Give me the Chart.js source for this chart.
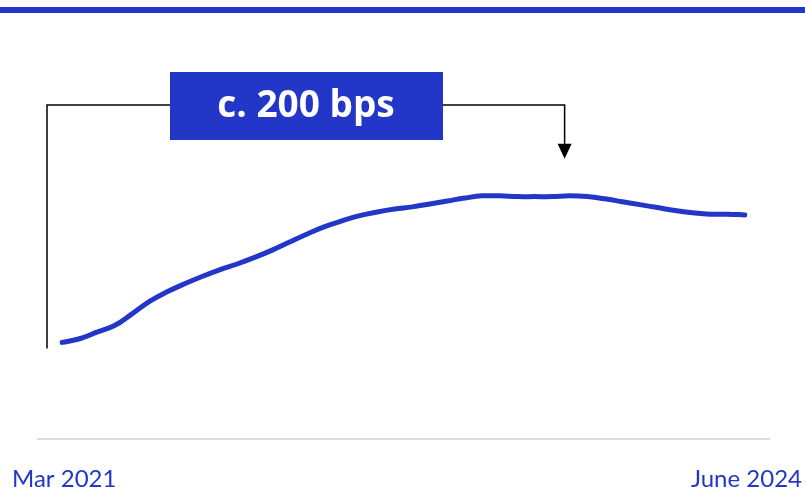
<!DOCTYPE html>
<html>
<head>
<meta charset="utf-8">
<script src="https://cdn.jsdelivr.net/npm/chart.js@4"></script>
<style>
  html, body { margin: 0; padding: 0; background: #fff; }
  #wrap { width: 805px; height: 489px; position: relative; }
</style>
</head>
<body>
<div id="wrap"><canvas id="spreadChart"></canvas></div>
<script>
// ----- Data -----
// monthly points, Mar 2021 .. June 2024 (bps, relative to start)
const months = [
  'Mar 2021','Apr 2021','May 2021','Jun 2021','Jul 2021','Aug 2021','Sep 2021','Oct 2021','Nov 2021','Dec 2021',
  'Jan 2022','Feb 2022','Mar 2022','Apr 2022','May 2022','Jun 2022','Jul 2022','Aug 2022','Sep 2022','Oct 2022',
  'Nov 2022','Dec 2022','Jan 2023','Feb 2023','Mar 2023','Apr 2023','May 2023','Jun 2023','Jul 2023','Aug 2023',
  'Sep 2023','Oct 2023','Nov 2023','Dec 2023','Jan 2024','Feb 2024','Mar 2024','Apr 2024','May 2024','June 2024'
];
const spreadBps = [
  0, 5, 14, 23, 39, 56, 69, 80, 90, 99,
  107, 116, 126, 137, 148, 158, 166, 173, 178, 182,
  185, 189, 193, 197, 200, 200, 199, 199, 199, 200,
  199, 196, 192, 188, 184, 180, 177, 175, 175, 174
];
const shownTicks = ['Mar 2021', 'June 2024'];
const annotationText = 'c. 200 bps';

const BLUE = '#2236c8';

// ----- Decorations: top rule, baseline, end labels, bracket + label -----
const decorations = {
  id: 'decorations',
  afterDraw(chart) {
    const ctx = chart.ctx;
    const x = chart.scales.x;
    const y = chart.scales.y;
    ctx.save();

    // top blue rule
    ctx.fillStyle = BLUE;
    ctx.fillRect(0, 7, chart.width, 6);

    // grey baseline
    ctx.strokeStyle = '#dcdcdc';
    ctx.lineWidth = 2;
    ctx.beginPath();
    ctx.moveTo(37, 439);
    ctx.lineTo(770, 439);
    ctx.stroke();

    // first / last period labels
    ctx.fillStyle = BLUE;
    ctx.font = '24px Lato, sans-serif';
    ctx.textBaseline = 'alphabetic';
    ctx.textAlign = 'left';
    ctx.fillText(shownTicks[0], 12, 487);
    ctx.textAlign = 'right';
    ctx.fillText(shownTicks[1], 802, 487);

    // bracket from start level to peak
    const startY = y.getPixelForValue(spreadBps[0]);
    const peakY = y.getPixelForValue(Math.max(...spreadBps));
    const leftX = x.getPixelForValue(0) - 15;
    const arrowX = x.getPixelForValue(28.7);
    const lineY = 105;

    ctx.strokeStyle = '#000';
    ctx.lineWidth = 1.5;
    ctx.beginPath();
    ctx.moveTo(leftX, startY + 6);
    ctx.lineTo(leftX, lineY);
    ctx.lineTo(arrowX, lineY);
    ctx.lineTo(arrowX, peakY - 48);
    ctx.stroke();

    ctx.fillStyle = '#000';
    ctx.beginPath();
    ctx.moveTo(arrowX - 7, peakY - 52);
    ctx.lineTo(arrowX + 7, peakY - 52);
    ctx.lineTo(arrowX, peakY - 37);
    ctx.closePath();
    ctx.fill();

    // label box
    ctx.fillStyle = BLUE;
    ctx.fillRect(170, 72, 273, 68);
    ctx.fillStyle = '#fff';
    ctx.font = 'bold 37px "Open Sans", sans-serif';
    ctx.textAlign = 'center';
    ctx.textBaseline = 'middle';
    ctx.fillText(annotationText, 306, 106);

    ctx.restore();
  }
};

new Chart(document.getElementById('spreadChart'), {
  type: 'line',
  data: {
    labels: months,
    datasets: [{
      data: spreadBps,
      borderColor: BLUE,
      borderWidth: 5,
      borderCapStyle: 'round',
      tension: 0.4,
      pointRadius: 0,
      fill: false
    }]
  },
  options: {
    responsive: true,
    maintainAspectRatio: false,
    animation: false,
    layout: { padding: { left: 62, right: 60, top: 20, bottom: 44 } },
    plugins: { legend: { display: false }, tooltip: { enabled: false } },
    scales: {
      x: { display: false },
      y: {
        display: false,
        min: -140,
        max: 440
      }
    }
  },
  plugins: [decorations]
});
</script>
</body>
</html>
